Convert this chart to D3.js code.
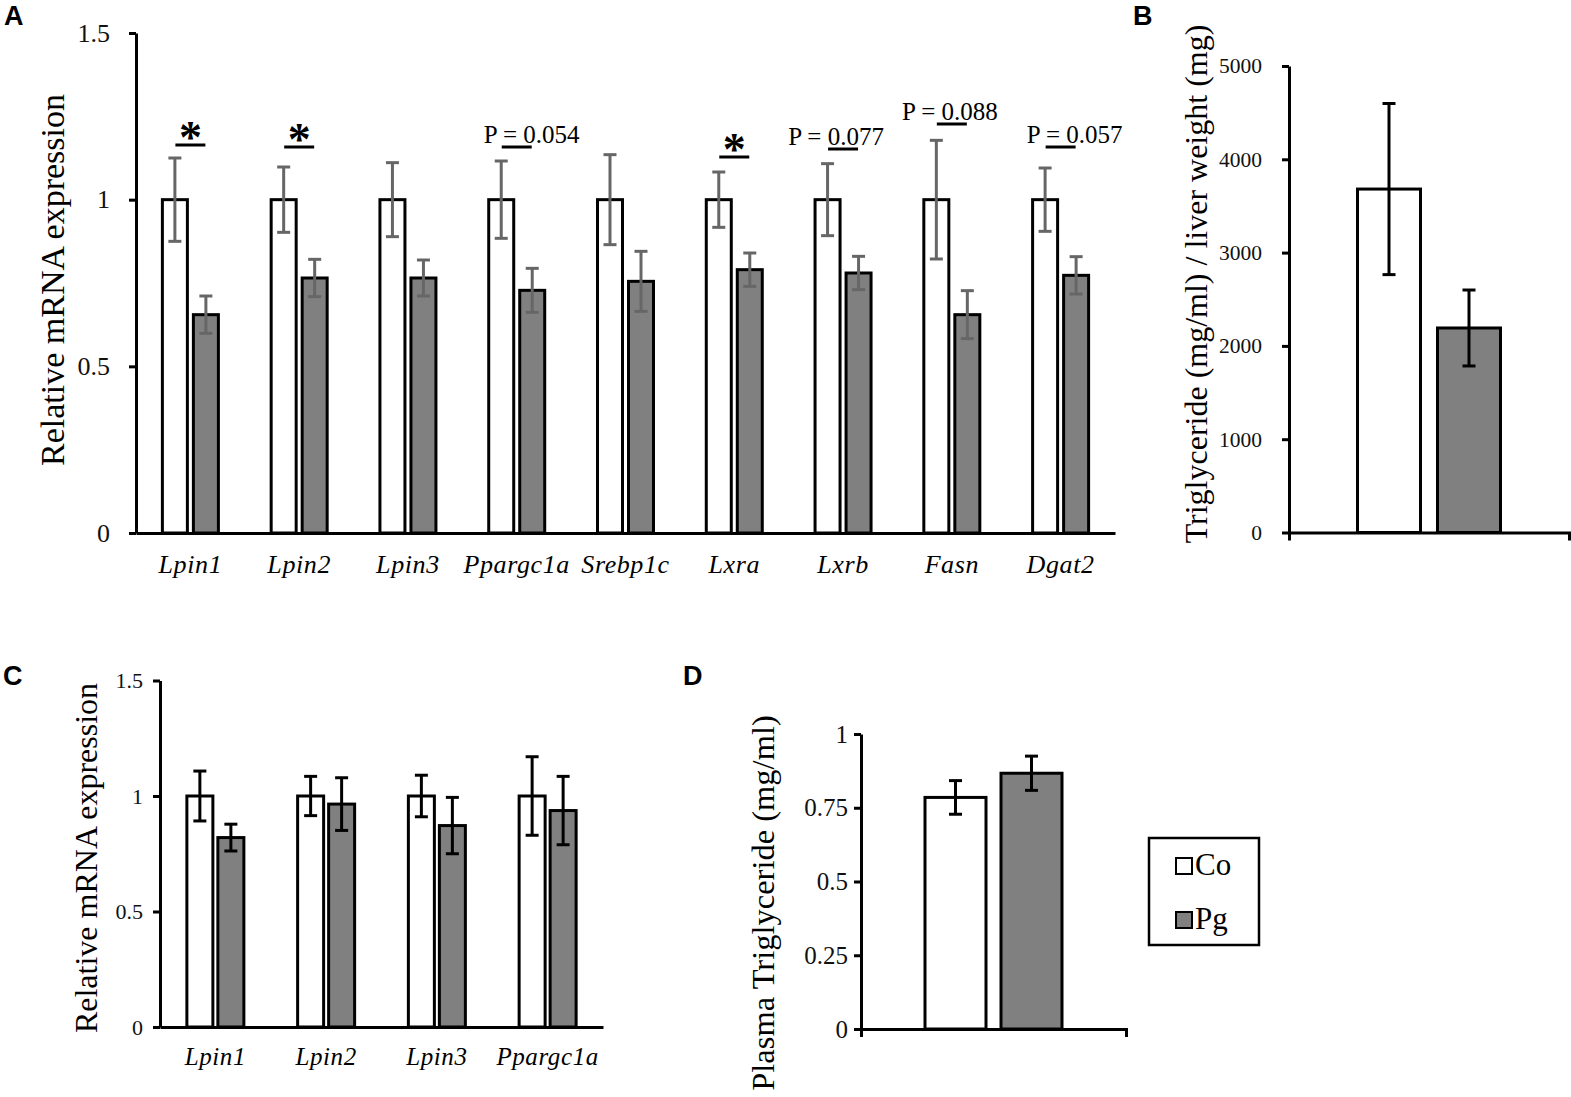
<!DOCTYPE html>
<html>
<head>
<meta charset="utf-8">
<script src="https://cdn.jsdelivr.net/npm/d3@7/dist/d3.min.js"></script>
<style>
  html, body { margin: 0; padding: 0; background: #fff; }
  svg { display: block; }
</style>
</head>
<body>
<svg id="chart" width="1571" height="1097"></svg>
<script>
// ---------------- DATA ----------------
// Panel A: liver mRNA expression
const aCategories = ["Lpin1", "Lpin2", "Lpin3", "Ppargc1a", "Srebp1c", "Lxra", "Lxrb", "Fasn", "Dgat2"];
const aCo    = [1, 1, 1, 1, 1, 1, 1, 1, 1];
const aPg    = [0.655, 0.765, 0.765, 0.728, 0.755, 0.79, 0.78, 0.655, 0.773];
const aCoErr = [0.125, 0.098, 0.111, 0.116, 0.135, 0.083, 0.108, 0.178, 0.095];
const aPgErr = [0.056, 0.056, 0.054, 0.066, 0.09, 0.05, 0.05, 0.072, 0.056];
const aTicks = [0, 0.5, 1, 1.5];
// significance annotations (panel A)
const annotCategories = ["Lpin1", "Lpin2", "Ppargc1a", "Lxra", "Lxrb", "Fasn", "Dgat2"];
const annotLabels     = ["*", "*", "P = 0.054", "*", "P = 0.077", "P = 0.088", "P = 0.057"];
const annotLevels     = [1.164, 1.158, 1.158, 1.128, 1.152, 1.227, 1.158];

// Panel B: liver triglyceride
const bCategories = [""];
const bCo    = [3681];
const bPg    = [2192];
const bCoErr = [917];
const bPgErr = [407];
const bTicks = [0, 1000, 2000, 3000, 4000, 5000];

// Panel C: mRNA expression (second tissue)
const cCategories = ["Lpin1", "Lpin2", "Lpin3", "Ppargc1a"];
const cCo    = [1, 1, 1, 1];
const cPg    = [0.82, 0.965, 0.872, 0.937];
const cCoErr = [0.108, 0.085, 0.09, 0.17];
const cPgErr = [0.058, 0.114, 0.122, 0.148];
const cTicks = [0, 0.5, 1, 1.5];

// Panel D: plasma triglyceride
const dCategories = [""];
const dCo    = [0.785];
const dPg    = [0.867];
const dCoErr = [0.057];
const dPgErr = [0.058];
const dTicks = [0, 0.25, 0.5, 0.75, 1];

const legendLabels = ["Co", "Pg"];

// ---------------- STYLE ----------------
const SERIF = "'Liberation Serif', 'Times New Roman', serif";
const SANS = "'Liberation Sans', Arial, sans-serif";
const CO_FILL = "#ffffff";
const PG_FILL = "#808080";
const annotTextShift = [0, 0, 15, 0, -7, -2, 14];

const svg = d3.select("#chart");
svg.append("rect").attr("width", 1571).attr("height", 1097).attr("fill", "#fff");

function panel(o) {
  const g = svg.append("g");
  const x = d3.scaleBand().domain(o.cats).range(o.xRange);
  const y = d3.scaleLinear().domain(o.domain).range(o.yRange);
  const rows = o.cats.map((c, i) => ({c, co: o.co[i], pg: o.pg[i], coErr: o.coErr[i], pgErr: o.pgErr[i]}));
  const cx = c => x(c) + x.bandwidth() / 2;
  const series = [
    {key: "co", err: "coErr", fill: CO_FILL, dx: c => cx(c) - o.gap / 2 - o.barW},
    {key: "pg", err: "pgErr", fill: PG_FILL, dx: c => cx(c) + o.gap / 2}
  ];
  series.forEach(s => {
    g.selectAll(null).data(rows).enter().append("rect")
      .attr("x", d => s.dx(d.c))
      .attr("y", d => y(d[s.key]))
      .attr("width", o.barW)
      .attr("height", d => y(0) - y(d[s.key]))
      .attr("fill", s.fill)
      .attr("stroke", "#000")
      .attr("stroke-width", o.barStroke);
  });
  // error bars
  series.forEach(s => {
    const eg = g.selectAll(null).data(rows).enter().append("g")
      .attr("stroke", o.errColor).attr("stroke-width", o.errW).attr("fill", "none");
    const mx = d => s.dx(d.c) + o.barW / 2;
    eg.append("line").attr("x1", mx).attr("x2", mx)
      .attr("y1", d => y(d[s.key] + d[s.err])).attr("y2", d => y(d[s.key] - d[s.err]));
    eg.append("line").attr("x1", d => mx(d) - o.cap / 2).attr("x2", d => mx(d) + o.cap / 2)
      .attr("y1", d => y(d[s.key] + d[s.err])).attr("y2", d => y(d[s.key] + d[s.err]));
    eg.append("line").attr("x1", d => mx(d) - o.cap / 2).attr("x2", d => mx(d) + o.cap / 2)
      .attr("y1", d => y(d[s.key] - d[s.err])).attr("y2", d => y(d[s.key] - d[s.err]));
  });
  // y axis
  const ya = g.append("g").attr("transform", `translate(${o.xRange[0]},0)`)
    .call(d3.axisLeft(y).tickValues(o.ticks).tickSize(7).tickSizeOuter(0)
      .tickPadding(o.tickPad).tickFormat(d => String(d)));
  ya.select(".domain").attr("stroke", "#000").attr("stroke-width", 3);
  ya.selectAll(".tick line").attr("stroke", "#000").attr("stroke-width", 3);
  ya.selectAll(".tick text").attr("font-family", SERIF).attr("font-size", o.tickFont).attr("fill", "#111");
  // x axis
  const xa = g.append("g").attr("transform", `translate(0,${y(0)})`)
    .call(d3.axisBottom(x).tickSize(0).tickSizeOuter(o.outer).tickPadding(o.xPad));
  xa.select(".domain").attr("stroke", "#000").attr("stroke-width", 3);
  xa.selectAll(".tick text").attr("font-family", SERIF).attr("font-style", "italic")
    .attr("font-size", o.xFont).attr("letter-spacing", "0.6px").attr("fill", "#000");
  // y title
  g.append("text")
    .attr("transform", `translate(${o.titleX},${o.titleY}) rotate(-90)`)
    .attr("text-anchor", "middle").attr("font-family", SERIF).attr("font-size", o.titleFont)
    .attr("fill", "#000").text(o.title);
  return {x, y, cx};
}

// Panel A
const A = panel({
  cats: aCategories, co: aCo, pg: aPg, coErr: aCoErr, pgErr: aPgErr,
  xRange: [136, 1115], yRange: [533, 33], domain: [0, 1.5], ticks: aTicks,
  barW: 25, gap: 6, barStroke: 3, errColor: "#666", errW: 3, cap: 13,
  tickFont: 26, tickPad: 19, outer: 0, xPad: 22, xFont: 26,
  title: "Relative mRNA expression", titleX: 64, titleY: 280, titleFont: 34
});
// significance annotations
annotCategories.forEach((c, i) => {
  const cxv = A.cx(c);
  const ly = A.y(annotLevels[i]);
  svg.append("line").attr("x1", cxv - 15).attr("x2", cxv + 15).attr("y1", ly).attr("y2", ly)
    .attr("stroke", "#000").attr("stroke-width", 3);
  const isStar = annotLabels[i] === "*";
  svg.append("text")
    .attr("x", cxv + annotTextShift[i])
    .attr("y", isStar ? ly + 8 : ly - 4)
    .attr("text-anchor", "middle")
    .attr("font-family", SERIF)
    .attr("font-weight", isStar ? "bold" : "normal")
    .attr("font-size", isStar ? 46 : 25)
    .attr("fill", "#000")
    .text(annotLabels[i]);
});

// Panel B
panel({
  cats: bCategories, co: bCo, pg: bPg, coErr: bCoErr, pgErr: bPgErr,
  xRange: [1289, 1569], yRange: [532.5, 66], domain: [0, 5000], ticks: bTicks,
  barW: 63, gap: 17, barStroke: 3, errColor: "#000", errW: 3, cap: 13,
  tickFont: 21.5, tickPad: 20, outer: 8, xPad: 10, xFont: 20,
  title: "Triglyceride (mg/ml) / liver weight (mg)", titleX: 1207, titleY: 284, titleFont: 32
});

// Panel C
panel({
  cats: cCategories, co: cCo, pg: cPg, coErr: cCoErr, pgErr: cPgErr,
  xRange: [160, 603], yRange: [1027, 680.5], domain: [0, 1.5], ticks: cTicks,
  barW: 26, gap: 5, barStroke: 3, errColor: "#000", errW: 3, cap: 13,
  tickFont: 22, tickPad: 10, outer: 0, xPad: 20, xFont: 25,
  title: "Relative mRNA expression", titleX: 97, titleY: 858, titleFont: 32
});

// Panel D
panel({
  cats: dCategories, co: dCo, pg: dPg, coErr: dCoErr, pgErr: dPgErr,
  xRange: [861, 1126], yRange: [1029, 734], domain: [0, 1], ticks: dTicks,
  barW: 61, gap: 15, barStroke: 3, errColor: "#000", errW: 3, cap: 13,
  tickFont: 25, tickPad: 6, outer: 8, xPad: 10, xFont: 20,
  title: "Plasma Triglyceride (mg/ml)", titleX: 774, titleY: 903, titleFont: 32.5
});

// Legend
const lg = svg.append("g");
lg.append("rect").attr("x", 1149).attr("y", 838).attr("width", 110).attr("height", 107)
  .attr("fill", "#fff").attr("stroke", "#000").attr("stroke-width", 2.5);
legendLabels.forEach((l, i) => {
  const yy = 858 + i * 54;
  lg.append("rect").attr("x", 1176).attr("y", yy).attr("width", 16).attr("height", 16)
    .attr("fill", i === 0 ? CO_FILL : PG_FILL).attr("stroke", "#000").attr("stroke-width", 2);
  lg.append("text").attr("x", 1195).attr("y", yy + 17).attr("font-family", SERIF)
    .attr("font-size", 31).attr("fill", "#000").text(l);
});

// Panel letters
[["A", 4, 25], ["B", 1133, 25], ["C", 3, 685], ["D", 683, 685]].forEach(([t, x, y]) => {
  svg.append("text").attr("x", x).attr("y", y).attr("font-family", SANS)
    .attr("font-weight", "bold").attr("font-size", 27).attr("fill", "#000").text(t);
});
</script>
</body>
</html>
